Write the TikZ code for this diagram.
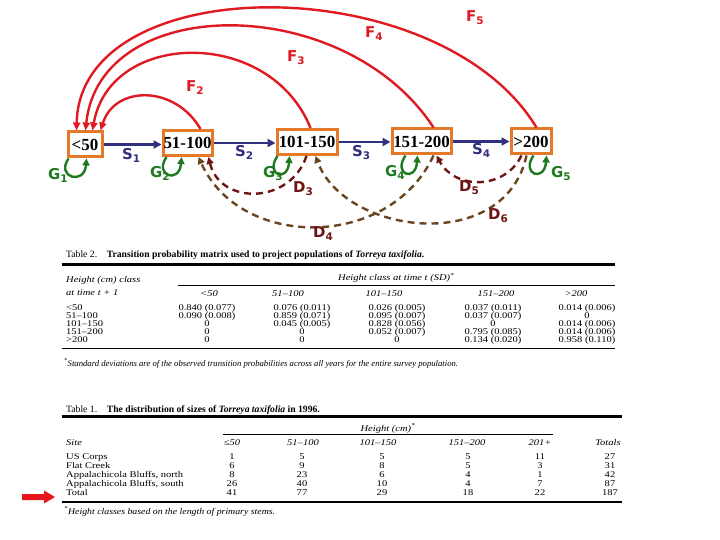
\documentclass[tikz,border=0pt]{standalone}
\usepackage{fontspec}
\setmainfont{Liberation Serif}
\newfontfamily\labfont{DejaVu Sans}
\newfontfamily\tabfont[FakeStretch=1.2,Ligatures=TeX]{Liberation Serif}
\newfontfamily\tabfontb[FakeStretch=1.12,Ligatures=TeX]{Liberation Serif}
\usetikzlibrary{arrows.meta,calc}
\definecolor{fred}{HTML}{E01A22}
\definecolor{snavy}{HTML}{30307F}
\definecolor{ggreen}{HTML}{1F7A1F}
\definecolor{dred}{HTML}{701515}
\definecolor{dbrown}{HTML}{6B4520}
\definecolor{boxor}{HTML}{E5792A}
\definecolor{arrred}{HTML}{E8141B}
\tikzset{
 stage/.style={draw=boxor, line width=3bp, fill=white, inner sep=0pt, minimum height=25bp, text=black, font=\fontsize{17}{17}\selectfont\bfseries},
 lab/.style={anchor=base west, inner sep=0pt, font=\labfont\bfseries\fontsize{15}{15}\selectfont},
 sarr/.style={draw=snavy, line width=2.6bp, -{Triangle[length=8bp,width=8bp]}},
 farr/.style={draw=fred, line width=2.4bp, -{Triangle[length=8bp,width=7bp]}},
 garr/.style={draw=ggreen, line width=2.4bp, -{Triangle[length=7bp,width=7bp]}},
 darr/.style={line width=2.4bp, dash pattern=on 7bp off 5bp, -{Triangle[length=7bp,width=7bp]}},
 tt/.style={inner sep=0pt, font=\tabfont\fontsize{8.8}{9}\selectfont},
 tti/.style={inner sep=0pt, font=\tabfont\fontsize{8.8}{9}\selectfont\itshape},
 tfoot/.style={inner sep=0pt, anchor=base west, font=\fontsize{8.7}{9}\selectfont\itshape},
 ttl/.style={inner sep=0pt, anchor=base west, font=\fontsize{9.7}{10}\selectfont},
 thick rule/.style={line width=3bp},
 thin rule/.style={line width=0.8bp},
 mid rule/.style={line width=1.4bp}
}
\begin{document}
\begin{tikzpicture}[x=1bp,y=-1bp]
\useasboundingbox (0,0) rectangle (720,540);
\fill[white] (0,0) rectangle (720,540);

% ---------- stage boxes ----------
\node[stage, minimum width=34bp] (n1) at (85,144.5) {<50};
\node[stage, minimum width=49bp] (n2) at (187.5,143) {51-100};
\node[stage, minimum width=60bp] (n3) at (307,142) {101-150};
\node[stage, minimum width=59bp] (n4) at (421.5,141.5) {151-200};
\node[stage, minimum width=40bp] (n5) at (531,141.5) {>200};

% ---------- survival arrows ----------
\draw[sarr] (n1.east) -- (n1.east -| n2.west);
\draw[sarr] (n2.east) -- (n2.east -| n3.west);
\draw[sarr] (n3.east) -- (n3.east -| n4.west);
\draw[sarr] (n4.east) -- (n4.east -| n5.west);

% ---------- fecundity arrows ----------
\draw[farr] ($(n2.north west)+(39,0)$) .. controls (175,85) and (115,85) .. ($(n1.north west)+(34,0)$);
\draw[farr] ($(n3.north west)+(35,0)$) .. controls (270,27) and (110,30) .. ($(n1.north west)+(26,0)$);
\draw[farr] ($(n4.north west)+(43,0)$) .. controls (345,-8) and (100,-8) .. ($(n1.north west)+(19,0)$);
\draw[farr] ($(n5.north west)+(27,0)$) .. controls (440,-32) and (80,-32) .. ($(n1.north west)+(10,0)$);

% ---------- growth (stay) loops ----------
\foreach \nd/\sa/\ea [count=\k] in {n1/2/20, n2/5/20, n3/2/14, n4/15/27, n5/24/37}{
  \coordinate (gs\k) at ($(\nd.south west)+(\sa,0)$);
  \coordinate (ge\k) at ($(\nd.south west)+(\ea,0)$);
  \draw[garr] (gs\k) .. controls ($(gs\k)+(-13,19)$) and ($(ge\k)+(-2,27)$) .. (ge\k);
}

% ---------- shrinkage arrows ----------
\draw[darr, draw=dred] ($(n3.south west)+(31,0)$) .. controls (290,205) and (220,205) .. ($(n2.south west)+(47,0)$);
\draw[darr, draw=dbrown] ($(n4.south west)+(43,0)$) .. controls (390,250) and (240,250) .. ($(n2.south west)+(37,0)$);
\draw[darr, draw=dred] ($(n5.south west)+(12,0)$) .. controls (505,190) and (455,190) .. ($(n4.south west)+(46,0)$);
\draw[darr, draw=dbrown] ($(n5.south west)+(17,0)$) .. controls (505,255) and (345,235) .. ($(n3.south west)+(40,0)$);

% ---------- labels ----------
\node[lab, text=snavy] (s1) at (122,160) {S\textsubscript{1}};
\node[lab, text=snavy] (s2) at (235,157) {S\textsubscript{2}};
\node[lab, text=snavy] (s3) at (352,157) {S\textsubscript{3}};
\node[lab, text=snavy] (s4) at (472,155) {S\textsubscript{4}};
\node[lab, text=ggreen] (g1) at (48,180) {G\textsubscript{1}};
\node[lab, text=ggreen] (g2) at (150,178) {G\textsubscript{2}};
\node[lab, text=ggreen] (g3) at (263,178) {G\textsubscript{3}};
\node[lab, text=ggreen] (g4) at (385,177) {G\textsubscript{4}};
\node[lab, text=ggreen] (g5) at (551,178) {G\textsubscript{5}};
\node[lab, text=dred] (d3) at (293,193) {D\textsubscript{3}};
\node[lab, text=dred] (d4) at (313,238) {D\textsubscript{4}};
\node[lab, text=dred] (d5) at (459,192) {D\textsubscript{5}};
\node[lab, text=dred] (d6) at (488,220) {D\textsubscript{6}};
\node[lab, text=fred] (f2) at (186,92) {F\textsubscript{2}};
\node[lab, text=fred] (f3) at (287,62) {F\textsubscript{3}};
\node[lab, text=fred] (f4) at (365,38) {F\textsubscript{4}};
\node[lab, text=fred] (f5) at (466,22) {F\textsubscript{5}};

% ---------- Table 2 ----------
\node[ttl] (t2title) at (66,258) {Table 2.\quad{\bfseries Transition probability matrix used to project populations of \textit{Torreya taxifolia}.}};
\draw[thick rule] (62,264.5) -- (615,264.5);
\node[tti, anchor=base west] (t2h1) at (66,283) {Height (cm) class};
\node[tti, anchor=base west] (t2h2) at (66,295) {at time t + 1};
\node[tti, anchor=base west] (t2h3) at (338,281) {Height class at time t (SD)\textsuperscript{*}};
\draw[thin rule] (178,285.5) -- (615,285.5);
\foreach \xx/\txt [count=\i] in {209/{<50}, 288/{51--100}, 384/{101--150}, 496/{151--200}, 576/{>200}}{
  \node[tti, anchor=base] (t2c\i) at (\xx,296) {\txt};
}
\foreach \yy/\rl/\va/\vb/\vc/\vd/\ve [count=\i] in {
 310/{<50}/{0.840 (0.077)}/{0.076 (0.011)}/{0.026 (0.005)}/{0.037 (0.011)}/{0.014 (0.006)},
 318/{51--100}/{0.090 (0.008)}/{0.859 (0.071)}/{0.095 (0.007)}/{0.037 (0.007)}/{0},
 326/{101--150}/{0}/{0.045 (0.005)}/{0.828 (0.056)}/{0}/{0.014 (0.006)},
 334/{151--200}/{0}/{0}/{0.052 (0.007)}/{0.795 (0.085)}/{0.014 (0.006)},
 342/{>200}/{0}/{0}/{0}/{0.134 (0.020)}/{0.958 (0.110)}}{
  \node[tt, anchor=base west] (t2r\i) at (66,\yy) {\rl};
  \node[tt, anchor=base] (t2r\i a) at (207,\yy) {\va};
  \node[tt, anchor=base] (t2r\i b) at (302,\yy) {\vb};
  \node[tt, anchor=base] (t2r\i c) at (397,\yy) {\vc};
  \node[tt, anchor=base] (t2r\i d) at (493,\yy) {\vd};
  \node[tt, anchor=base] (t2r\i e) at (587,\yy) {\ve};
}
\draw[mid rule] (62,348.5) -- (615,348.5);
\node[tfoot] (t2foot) at (64,366) {\textsuperscript{*}Standard deviations are of the observed transition probabilities across all years for the entire survey population.};

% ---------- Table 1 ----------
\node[ttl] (t1title) at (66,412) {Table 1.\quad{\bfseries The distribution of sizes of \textit{Torreya taxifolia} in 1996.}};
\draw[thick rule] (62,416.5) -- (622,416.5);
\node[tti, anchor=base] (t1h0) at (388,431) {Height (cm)\textsuperscript{*}};
\draw[thin rule] (223,434.5) -- (553,434.5);
\node[tti, anchor=base west] (t1site) at (66,445) {Site};
\foreach \xx/\txt [count=\i] in {232/{≤50}, 303/{51--100}, 378/{101--150}, 467/{151--200}, 540/{201+}, 608/{Totals}}{
  \node[tti, anchor=base] (t1c\i) at (\xx,445) {\txt};
}
\foreach \yy/\rl/\va/\vb/\vc/\vd/\ve/\vf [count=\i] in {
 459/{US Corps}/1/5/5/5/11/27,
 468/{Flat Creek}/6/9/8/5/3/31,
 477/{Appalachicola Bluffs, north}/8/23/6/4/1/42,
 486/{Appalachicola Bluffs, south}/26/40/10/4/7/87,
 495/{Total}/41/77/29/18/22/187}{
  \node[tt, anchor=base west] (t1r\i) at (66,\yy) {\rl};
  \node[tt, anchor=base] (t1r\i a) at (232,\yy) {\va};
  \node[tt, anchor=base] (t1r\i b) at (302,\yy) {\vb};
  \node[tt, anchor=base] (t1r\i c) at (382,\yy) {\vc};
  \node[tt, anchor=base] (t1r\i d) at (468,\yy) {\vd};
  \node[tt, anchor=base] (t1r\i e) at (540,\yy) {\ve};
  \node[tt, anchor=base] (t1r\i f) at (610,\yy) {\vf};
}
\draw[mid rule] (62,502) -- (622,502);
\node[tfoot, font=\tabfontb\fontsize{8.8}{9}\selectfont\itshape] (t1foot) at (64,514) {\textsuperscript{*}Height classes based on the length of primary stems.};

% ---------- red pointer arrow ----------
\fill[arrred] (22,494) -- (44,494) -- (44,490.5) -- (55,497) -- (44,503.5) -- (44,500) -- (22,500) -- cycle;
\end{tikzpicture}
\end{document}
